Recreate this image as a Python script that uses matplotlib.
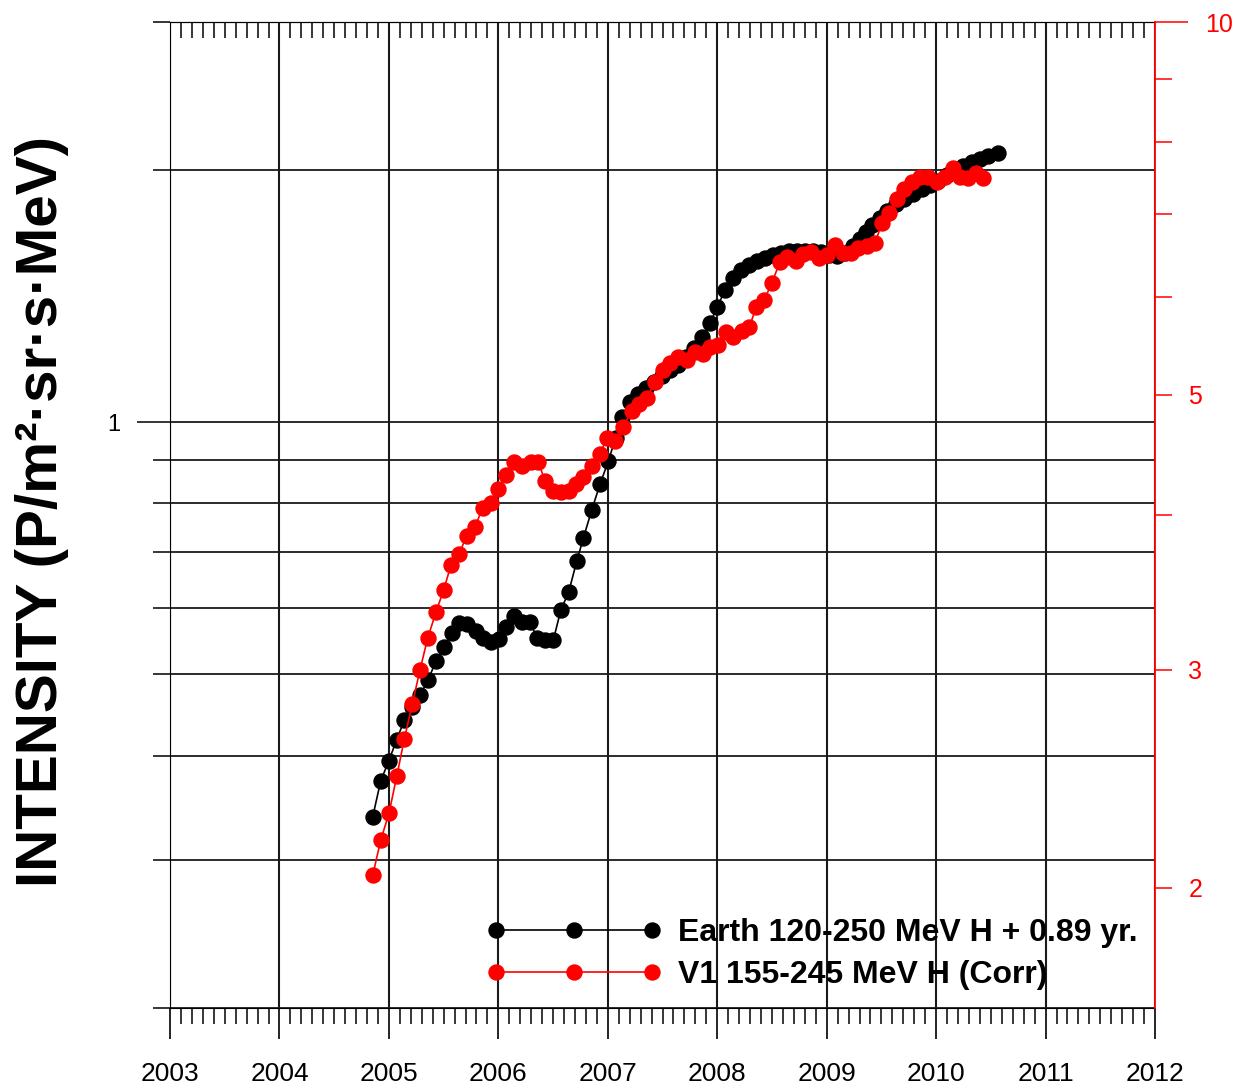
import matplotlib
matplotlib.use('Agg')
import matplotlib.pyplot as plt
from matplotlib.ticker import FixedLocator, FixedFormatter, NullFormatter, MultipleLocator, FuncFormatter

plt.rcParams['font.family'] = ['Liberation Sans', 'DejaVu Sans']

# Earth 120-250 MeV H (shifted by +0.89 yr), left axis
earth_t = [2004.852, 2004.925, 2004.998, 2005.072, 2005.141, 2005.214, 2005.284, 2005.360,
           2005.431, 2005.504, 2005.574, 2005.641, 2005.717, 2005.796, 2005.863, 2005.930,
           2006.009, 2006.070, 2006.143, 2006.216, 2006.290, 2006.356, 2006.427, 2006.502,
           2006.570, 2006.643, 2006.716, 2006.777, 2006.853, 2006.929, 2007.005, 2007.071,
           2007.130, 2007.203, 2007.276, 2007.349, 2007.423, 2007.496, 2007.569, 2007.642,
           2007.715, 2007.788, 2007.861, 2007.934, 2008.001, 2008.071, 2008.144, 2008.218,
           2008.291, 2008.364, 2008.437, 2008.510, 2008.583, 2008.656, 2008.729, 2008.802,
           2008.875, 2008.948, 2009.022, 2009.095, 2009.168, 2009.241, 2009.305, 2009.360,
           2009.414, 2009.488, 2009.552, 2009.634, 2009.707, 2009.789, 2009.867, 2009.944,
           2010.018, 2010.097, 2010.173, 2010.246, 2010.324, 2010.401, 2010.477, 2010.569]
earth_i = [0.338, 0.373, 0.394, 0.418, 0.441, 0.457, 0.472, 0.493,
           0.519, 0.539, 0.560, 0.576, 0.574, 0.563, 0.552, 0.546,
           0.551, 0.569, 0.587, 0.577, 0.577, 0.552, 0.549, 0.549,
           0.596, 0.627, 0.682, 0.727, 0.785, 0.843, 0.898, 0.957,
           1.014, 1.056, 1.080, 1.098, 1.116, 1.135, 1.154, 1.170,
           1.196, 1.226, 1.263, 1.313, 1.371, 1.437, 1.485, 1.518,
           1.539, 1.556, 1.569, 1.582, 1.591, 1.598, 1.600, 1.600,
           1.600, 1.596, 1.582, 1.578, 1.591, 1.622, 1.654, 1.686,
           1.718, 1.752, 1.785, 1.820, 1.845, 1.871, 1.897, 1.918,
           1.939, 1.971, 1.998, 2.020, 2.040, 2.060, 2.077, 2.094]

# V1 155-245 MeV H (Corr), right axis
v1_t = [2004.852, 2004.925, 2005.001, 2005.072, 2005.141, 2005.214, 2005.284, 2005.355,
        2005.431, 2005.501, 2005.568, 2005.641, 2005.711, 2005.787, 2005.857, 2005.930,
        2006.000, 2006.070, 2006.146, 2006.219, 2006.296, 2006.365, 2006.427, 2006.497,
        2006.573, 2006.646, 2006.710, 2006.777, 2006.853, 2006.929, 2006.996, 2007.066,
        2007.142, 2007.219, 2007.288, 2007.356, 2007.432, 2007.507, 2007.569, 2007.645,
        2007.727, 2007.797, 2007.866, 2007.934, 2008.003, 2008.076, 2008.147, 2008.224,
        2008.293, 2008.355, 2008.428, 2008.498, 2008.571, 2008.642, 2008.720, 2008.787,
        2008.860, 2008.930, 2009.003, 2009.076, 2009.147, 2009.220, 2009.289, 2009.366,
        2009.442, 2009.503, 2009.573, 2009.640, 2009.707, 2009.777, 2009.853, 2009.929,
        2010.006, 2010.082, 2010.152, 2010.219, 2010.294, 2010.365, 2010.432]
v1_i = [2.047, 2.185, 2.298, 2.462, 2.638, 2.815, 2.999, 3.183,
        3.341, 3.481, 3.646, 3.721, 3.848, 3.913, 4.054, 4.093,
        4.201, 4.312, 4.418, 4.385, 4.410, 4.410, 4.264, 4.185,
        4.177, 4.185, 4.240, 4.295, 4.385, 4.484, 4.619, 4.594,
        4.715, 4.857, 4.920, 4.975, 5.117, 5.233, 5.301, 5.361,
        5.331, 5.411, 5.391, 5.463, 5.483, 5.617, 5.565, 5.627,
        5.668, 5.884, 5.962, 6.152, 6.397, 6.457, 6.409, 6.493,
        6.519, 6.445, 6.481, 6.603, 6.506, 6.506, 6.566, 6.591,
        6.627, 6.880, 7.010, 7.195, 7.328, 7.425, 7.494, 7.494,
        7.425, 7.494, 7.621, 7.494, 7.480, 7.549, 7.480]

left_ticks_minor = [0.2, 0.3, 0.4, 0.5, 0.6, 0.7, 0.8, 0.9, 2, 3]
right_ticks_minor = [2, 3, 4, 5, 6, 7, 8, 9]
right_labels = [2, 3, 5]

W, H = 1239, 1089
fig = plt.figure(figsize=(W/100, H/100), dpi=100)
ax = fig.add_axes([170/W, 1-1008/H, 985/W, 986/H])
ax.set_yscale('log')
ax.set_xlim(2003, 2012)
ax.set_ylim(0.2, 3)

l1, = ax.plot(earth_t, earth_i, '-o', color='black', ms=10.8, lw=1.2,
              label='Earth 120-250 MeV H + 0.89 yr.')

# left axis ticks
ax.yaxis.set_major_locator(FixedLocator([1]))
ax.yaxis.set_major_formatter(FixedFormatter(['1']))
ax.yaxis.set_minor_locator(FixedLocator(left_ticks_minor))
ax.yaxis.set_minor_formatter(NullFormatter())
ax.tick_params(axis='y', which='major', length=24, width=1.1, pad=12, labelsize=17)
ax.tick_params(axis='y', which='minor', length=12, width=1.1)

# x ticks
ax.xaxis.set_major_locator(MultipleLocator(1))
ax.xaxis.set_minor_locator(MultipleLocator(0.1))
ax.xaxis.set_major_formatter(FuncFormatter(lambda v, p: f'{int(round(v))}'))
ax.tick_params(axis='x', which='major', direction='out', length=22, width=1.2, pad=17, labelsize=19)
ax.tick_params(axis='x', which='minor', direction='out', length=11.5, width=1.1)
top = ax.secondary_xaxis('top')
top.xaxis.set_major_locator(MultipleLocator(1))
top.xaxis.set_minor_locator(MultipleLocator(0.1))
top.xaxis.set_major_formatter(NullFormatter())
top.tick_params(which='major', length=0)
top.tick_params(which='minor', direction='in', length=11.5, width=1.1)

ax.grid(True, which='both', axis='y', color='#1a1a1a', lw=1.3)
ax.grid(True, which='major', axis='x', color='#1a1a1a', lw=1.5)
ax.spines['right'].set_visible(False)

# right axis (red)
ax2 = ax.twinx()
ax2.set_yscale('log')
ax2.set_ylim(1.6, 10)
l2, = ax2.plot(v1_t, v1_i, '-o', color='red', ms=10.8, lw=1.2,
               label='V1 155-245 MeV H (Corr)')
ax2.yaxis.set_major_locator(FixedLocator([10]))
ax2.yaxis.set_major_formatter(FixedFormatter(['10']))
ax2.yaxis.set_minor_locator(FixedLocator(right_ticks_minor))
ax2.yaxis.set_minor_formatter(FuncFormatter(lambda v, p: f'{v:g}' if round(v) in right_labels else ''))
ax2.tick_params(axis='y', which='major', length=24, width=1.1, pad=12, labelsize=18,
                color='red', labelcolor='red')
ax2.tick_params(axis='y', which='minor', length=12, width=1.1, pad=12, labelsize=18,
                color='red', labelcolor='red')
ax2.spines['right'].set_color('red')
ax2.spines['right'].set_linewidth(1.3)
for s in ['left', 'top', 'bottom']:
    ax2.spines[s].set_visible(False)

leg = ax2.legend([l1, l2], [l1.get_label(), l2.get_label()], numpoints=3,
                 handlelength=5.49, handletextpad=0.51, frameon=False,
                 prop=dict(weight='bold', size=23), loc='upper left',
                 bbox_to_anchor=(486/W, 1-918/H), bbox_transform=fig.transFigure,
                 borderpad=0, borderaxespad=0, labelspacing=0.37)

fig.text(42/W, 1-512/H, 'INTENSITY (P/m²·sr·s·MeV)', rotation=90, ha='center', va='center',
         fontsize=42, fontweight='bold')

fig.savefig('out.png', dpi=100)
